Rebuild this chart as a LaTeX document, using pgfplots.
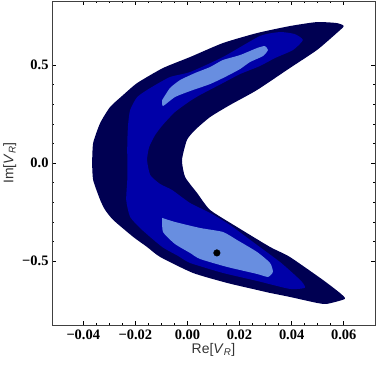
\documentclass[border=0pt]{standalone}
\usepackage{fontspec}
\setmainfont{Liberation Serif}
\setsansfont{Liberation Sans}
\usepackage{pgfplots}
\pgfplotsset{compat=1.18}
\definecolor{cnavy}{RGB}{0,0,82}
\definecolor{cblue}{RGB}{0,0,168}
\definecolor{clight}{RGB}{104,142,224}
\begin{document}
\begin{tikzpicture}
\begin{axis}[name=ax,scale only axis,width=323bp,height=324bp,
  xmin=-0.052,xmax=0.072,ymin=-0.827,ymax=0.827,
  scaled x ticks=false,scaled y ticks=false,
  xtick={-0.04,-0.02,0,0.02,0.04,0.06},
  xticklabels={−0.04,−0.02,0.00,0.02,0.04,0.06},
  ytick={-0.5,0,0.5},yticklabels={−0.5,0.0,0.5},
  minor x tick num=3,minor y tick num=4,
  tick align=inside,major tick length=4bp,minor tick length=2.2bp,
  tick style={black,line width=0.5pt},
  axis line style={black!75,line width=0.7pt},
  ticklabel style={font=\fontsize{14.5}{16}\selectfont\bfseries},
  xticklabel style={yshift=-1bp},
  label style={font=\fontsize{14}{16}\sffamily,text=black!80},
  xlabel={Re[\textit{V}\textsubscript{\textit{R}}]},
  ylabel={Im[\textit{V}\textsubscript{\textit{R}}]},
  xlabel style={yshift=3bp},ylabel style={yshift=-1bp},
  every axis plot/.append style={smooth,tension=0.35}]
% outer level
\addplot[fill=cnavy,draw=none] coordinates {
(-0.0366,0) (-0.0362,0.1020) (-0.0335,0.2041) (-0.0297,0.2857) (-0.0247,0.3469)
(-0.0193,0.4082) (-0.0094,0.4847) (0.0010,0.5408) (0.0136,0.6122) (0.0267,0.6633)
(0.0393,0.6990) (0.0497,0.7194) (0.0573,0.7143) (0.0600,0.6990) (0.0573,0.6633)
(0.0497,0.5765) (0.0393,0.4847) (0.0267,0.3724) (0.0163,0.2959) (0.0087,0.2347)
(0.0029,0.1684) (-0.0002,0.1173) (-0.0021,0.0153) (-0.0009,-0.0714) (0.0037,-0.1531)
(0.0087,-0.2398) (0.0190,-0.3265) (0.0317,-0.4286) (0.0393,-0.4796) (0.0520,-0.5969)
(0.0585,-0.6633) (0.0604,-0.6939) (0.0535,-0.7194) (0.0497,-0.7143) (0.0393,-0.6837)
(0.0317,-0.6633) (0.0267,-0.6480) (0.0152,-0.6122) (0.0021,-0.5612) (-0.0105,-0.4796)
(-0.0155,-0.4286) (-0.0208,-0.3776) (-0.0285,-0.2908) (-0.0316,-0.2398) (-0.0335,-0.1888)
(-0.0362,-0.0867) (-0.0366,0)};
% middle level
\addplot[fill=cblue,draw=none] coordinates {
(-0.0231,0) (-0.0231,0.1020) (-0.0228,0.1939) (-0.0220,0.2704) (-0.0193,0.3367)
(-0.0143,0.3827) (-0.0067,0.4388) (0.0010,0.4643) (0.0136,0.5408) (0.0278,0.6480)
(0.0355,0.6684) (0.0412,0.6582) (0.0443,0.6276) (0.0405,0.5765) (0.0336,0.5357)
(0.0278,0.4949) (0.0202,0.4541) (0.0136,0.4082) (0.0048,0.3469) (0.0010,0.3163)
(-0.0048,0.2602) (-0.0095,0.1939) (-0.0124,0.1429) (-0.0147,0.0816) (-0.0155,0.0153)
(-0.0143,-0.0612) (-0.0105,-0.1071) (-0.0059,-0.1378) (0.0010,-0.2041) (0.0087,-0.2551)
(0.0163,-0.3163) (0.0267,-0.4184) (0.0355,-0.5051) (0.0412,-0.5714) (0.0443,-0.6122)
(0.0450,-0.6378) (0.0393,-0.6429) (0.0267,-0.6020) (0.0136,-0.5612) (0.0010,-0.5102)
(-0.0036,-0.4745) (-0.0097,-0.4286) (-0.0174,-0.3418) (-0.0220,-0.2755) (-0.0235,-0.1888)
(-0.0231,-0.0867) (-0.0231,0)};
% inner level, upper arm
\addplot[fill=clight,draw=none] coordinates {
(-0.0097,0.3214) (-0.0067,0.3827) (-0.0028,0.4235) (0.0029,0.4592) (0.0087,0.4898)
(0.0136,0.5255) (0.0202,0.5510) (0.0267,0.5867) (0.0297,0.5969) (0.0309,0.5765)
(0.0290,0.5459) (0.0240,0.5153) (0.0202,0.4796) (0.0144,0.4388) (0.0087,0.4031)
(0.0010,0.3673) (-0.0048,0.3367) (-0.0094,0.2908) (-0.0097,0.3214)};
% inner level, lower arm
\addplot[fill=clight,draw=none] coordinates {
(-0.0097,-0.2806) (-0.0048,-0.3010) (0.0048,-0.3316) (0.0136,-0.3520) (0.0190,-0.3929)
(0.0267,-0.4541) (0.0317,-0.5102) (0.0328,-0.5561) (0.0309,-0.5816) (0.0267,-0.5663)
(0.0152,-0.5306) (0.0048,-0.4898) (0.0010,-0.4592) (-0.0048,-0.4133) (-0.0094,-0.3520)
(-0.0097,-0.2806)};
% best fit point
\addplot[only marks,mark=*,mark size=3.3bp,black] coordinates {(0.0113,-0.459)};
\end{axis}
\pgfresetboundingbox
\path[use as bounding box] ([xshift=-52bp,yshift=-42bp]ax.south west) rectangle ([xshift=4bp,yshift=1bp]ax.north east);
\end{tikzpicture}
\end{document}
